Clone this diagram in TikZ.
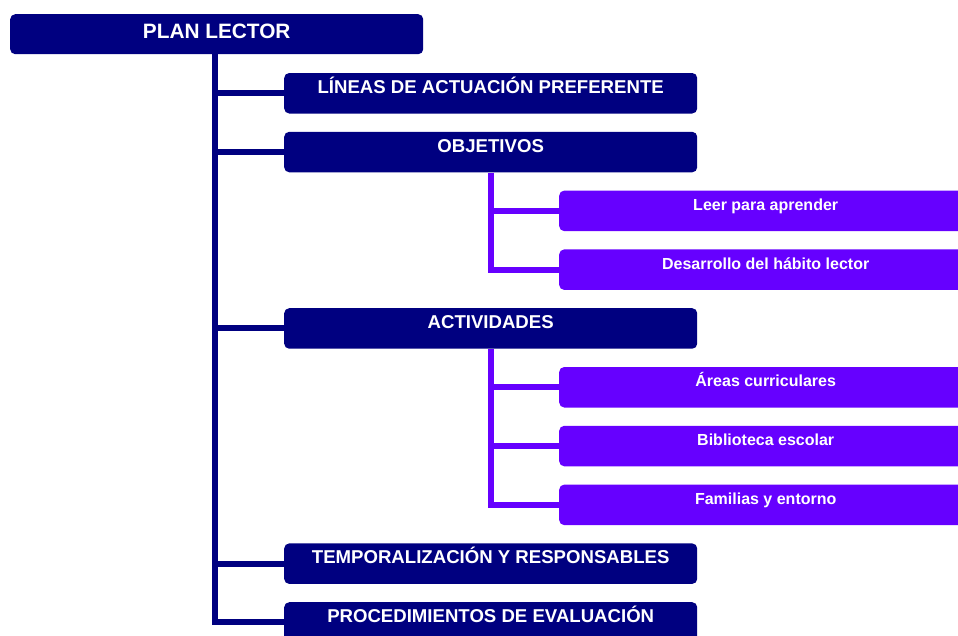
\documentclass[tikz,border=0pt]{standalone}
\usepackage{fontspec}
\setmainfont{Liberation Sans}
\usetikzlibrary{backgrounds}
\definecolor{navyc}{RGB}{0,0,128}
\definecolor{purp}{RGB}{102,0,255}
\tikzset{
  basebox/.style={anchor=north west, rounded corners=5pt, inner xsep=0pt, inner ysep=0pt,
    text=white, minimum width=413pt, align=center},
  topbox/.style={basebox, fill=navyc, font=\fontsize{20.8}{24}\bfseries\selectfont,
    text height=24.4pt, text depth=15.6pt},
  lvone/.style={basebox, fill=navyc, font=\fontsize{18.6}{22}\bfseries\selectfont,
    text height=20.2pt, text depth=20.3pt},
  lvtwo/.style={basebox, fill=purp, font=\fontsize{16}{19}\bfseries\selectfont,
    text height=19.7pt, text depth=20.8pt},
  trunk/.style={draw=navyc, line width=6pt},
  branch/.style={draw=purp, line width=6pt}
}
\begin{document}
\begin{tikzpicture}[x=1pt,y=-1pt]
\useasboundingbox (0,0) rectangle (958,635);
\node[topbox] (plan) at (10,14) {PLAN LECTOR};
\node[lvone] (lin) at (284,72.8) {LÍNEAS DE ACTUACIÓN PREFERENTE};
\node[lvone] (obj) at (284,131.6) {OBJETIVOS};
\node[lvtwo] (lee) at (559,190.4) {Leer para aprender};
\node[lvtwo] (des) at (559,249.2) {Desarrollo del hábito lector};
\node[lvone] (act) at (284,308) {ACTIVIDADES};
\node[lvtwo] (are) at (559,366.8) {Áreas curriculares};
\node[lvtwo] (bib) at (559,425.6) {Biblioteca escolar};
\node[lvtwo] (fam) at (559,484.4) {Familias y entorno};
\node[lvone] (tem) at (284,543.2) {TEMPORALIZACIÓN Y RESPONSABLES};
\node[lvone] (pro) at (284,602) {PROCEDIMIENTOS DE EVALUACIÓN};
\begin{scope}[on background layer]
\coordinate (tr) at ([xshift=-1.5pt]plan.south);
\draw[trunk] (tr) |- (pro.west);
\foreach \n in {lin,obj,act,tem} \draw[trunk] (tr |- \n.west) -- (\n.west);
\draw[branch] (obj.south) |- (des.west);
\draw[branch] (obj.south |- lee.west) -- (lee.west);
\draw[branch] (act.south) |- (fam.west);
\foreach \n in {are,bib} \draw[branch] (act.south |- \n.west) -- (\n.west);
\end{scope}
\end{tikzpicture}
\end{document}
